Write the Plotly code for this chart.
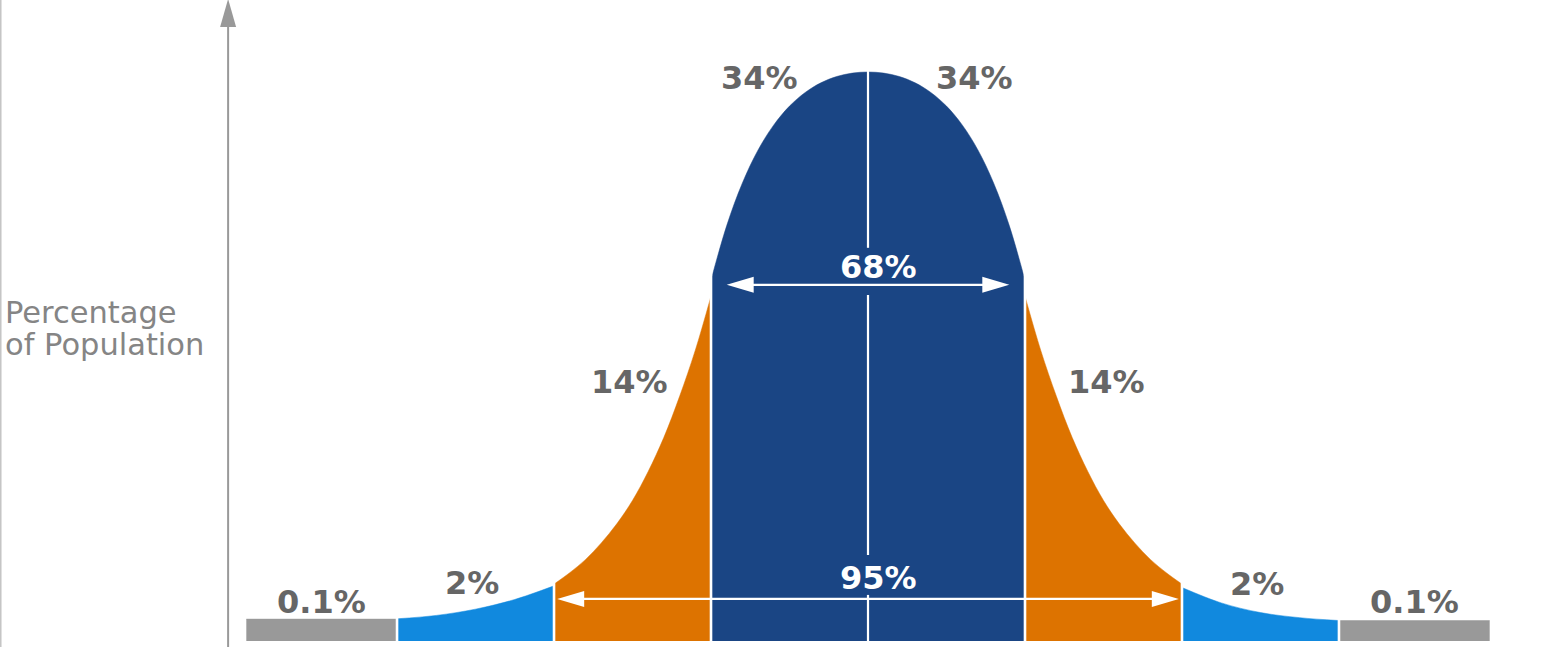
import plotly.graph_objects as go

# ---- data -----------------------------------------------------------------
# x: position in standard deviations from the mean
# h: height of the curve, in percent of the peak height
GRAY_L_X = [-3.96, -3.0]
GRAY_L_H = [3.85, 3.85]
LBLUE_L_X = [-3.0, -2.75, -2.5, -2.25, -2.0]
LBLUE_L_H = [3.9, 4.5, 5.6, 7.3, 9.7]
ORANGE_L_X = [-2.0, -1.9, -1.8, -1.7, -1.6, -1.5, -1.4, -1.3, -1.2, -1.1, -1.0]
ORANGE_L_H = [10.0, 12.0, 14.3, 17.2, 20.6, 24.7, 29.8, 35.8, 43.0, 51.1, 60.6]
NAVY_X = [-1.0, -0.9, -0.8, -0.7, -0.6, -0.5, -0.4, -0.3, -0.2, -0.1, 0.0,
          0.1, 0.2, 0.3, 0.4, 0.5, 0.6, 0.7, 0.8, 0.9, 1.0]
NAVY_H = [63.4, 73.0, 80.5, 86.3, 90.7, 94.0, 96.4, 98.1, 99.2, 99.8, 100.0,
          99.8, 99.2, 98.1, 96.4, 94.0, 90.7, 86.3, 80.5, 73.0, 63.4]
ORANGE_R_X = [1.0, 1.1, 1.2, 1.3, 1.4, 1.5, 1.6, 1.7, 1.8, 1.9, 2.0]
ORANGE_R_H = [60.6, 51.1, 43.0, 35.8, 29.8, 24.7, 20.6, 17.2, 14.3, 12.0, 10.0]
LBLUE_R_X = [2.0, 2.25, 2.5, 2.75, 3.0]
LBLUE_R_H = [9.4, 6.7, 5.0, 4.1, 3.6]
GRAY_R_X = [3.0, 3.96]
GRAY_R_H = [3.6, 3.6]

SEGMENT_LABELS = ["0.1%", "2%", "14%", "34%", "34%", "14%", "2%", "0.1%"]
RANGE_LABELS = ["68%", "95%"]
BOUNDARIES = [-3, -2, -1, 1, 2, 3]
AXIS_TITLE = ["Percentage", "of Population"]

# ---- styles ----------------------------------------------------------------
C_NAVY = "#1a4584"
C_ORANGE = "#dd7300"
C_LBLUE = "#1189de"
C_GRAY = "#999999"
C_TEXT = "#666666"
C_TITLE = "#858585"
FONT = "DejaVu Sans"

W, H = 1544, 647
X_RANGE = [-5.529, 4.306]
Y_RANGE = [-1.054, 112.65]

fig = go.Figure()

segments = [
    (GRAY_L_X, GRAY_L_H, C_GRAY, "linear"),
    (LBLUE_L_X, LBLUE_L_H, C_LBLUE, "spline"),
    (ORANGE_L_X, ORANGE_L_H, C_ORANGE, "spline"),
    (NAVY_X, NAVY_H, C_NAVY, "spline"),
    (ORANGE_R_X, ORANGE_R_H, C_ORANGE, "spline"),
    (LBLUE_R_X, LBLUE_R_H, C_LBLUE, "spline"),
    (GRAY_R_X, GRAY_R_H, C_GRAY, "linear"),
]
for xs, hs, col, shp in segments:
    fig.add_trace(go.Scatter(
        x=xs, y=hs, mode="lines", fill="tozeroy", fillcolor=col,
        line=dict(color=col, width=0.5, shape=shp, smoothing=1.0),
        hoverinfo="skip", showlegend=False,
    ))

shapes = []


def height_at(b):
    vals = []
    for xs, hs, _, _ in segments:
        for xv, hv in zip(xs, hs):
            if abs(xv - b) < 1e-9:
                vals.append(hv)
    return max(vals)


# white separators between the bands
for b in BOUNDARIES:
    shapes.append(dict(type="line", xref="x", yref="y", x0=b, x1=b, y0=-0.5,
                       y1=height_at(b) + 2.5, line=dict(color="white", width=2.6)))

# centre line, broken where the range labels sit
for y0, y1 in [(-0.5, 8.1), (15.1, 60.8), (69.1, 100.5)]:
    shapes.append(dict(type="line", xref="x", yref="y", x0=0, x1=0, y0=y0, y1=y1,
                       line=dict(color="white", width=2.2)))

# double arrows for 68% and 95%
arrow_y = [62.6, 7.4]
arrow_tip = [0.9, 1.98]
for ay, tip in zip(arrow_y, arrow_tip):
    shapes.append(dict(type="line", xref="x", yref="y", x0=-tip + 0.1, x1=tip - 0.1,
                       y0=ay, y1=ay, line=dict(color="white", width=2.2)))
    for sgn in (-1, 1):
        shapes.append(dict(type="path", xref="x", yref="y", xsizemode="pixel",
                           ysizemode="pixel", xanchor=sgn * tip, yanchor=ay,
                           path=f"M0,0 L{-sgn*27},8 L{-sgn*27},-8 Z",
                           fillcolor="white", line=dict(width=0)))

# vertical axis with arrow head
AXIS_X = -4.076
shapes.append(dict(type="line", xref="x", yref="paper", x0=AXIS_X, x1=AXIS_X,
                   y0=0, y1=0.97, line=dict(color=C_GRAY, width=2)))
shapes.append(dict(type="path", xref="x", yref="paper", xsizemode="pixel",
                   ysizemode="pixel", xanchor=AXIS_X, yanchor=1.0,
                   path="M0,1 L-8,-27 L8,-27 Z", fillcolor=C_GRAY, line=dict(width=0)))
# thin frame line at the left edge
shapes.append(dict(type="line", xref="paper", yref="paper", x0=0.0005, x1=0.0005,
                   y0=0, y1=1, line=dict(color="#c4c4c4", width=1.5)))

annotations = []
seg_label_x = [-3.48, -2.52, -1.52, -0.69, 0.68, 1.52, 2.48, 3.48]
seg_label_y = [6.85, 10.2, 45.5, 98.9, 98.9, 45.5, 10.0, 6.85]
for t, lx, ly in zip(SEGMENT_LABELS, seg_label_x, seg_label_y):
    annotations.append(dict(text=t, x=lx, y=ly, xref="x", yref="y", showarrow=False,
                            xanchor="center", yanchor="middle",
                            font=dict(family=FONT, size=32, color=C_TEXT, weight="bold")))
range_label_y = [65.7, 11.1]
for t, ly in zip(RANGE_LABELS, range_label_y):
    annotations.append(dict(text=t, x=0.07, y=ly, xref="x", yref="y", showarrow=False,
                            xanchor="center", yanchor="middle",
                            font=dict(family=FONT, size=32, color="white", weight="bold")))
for t, py in zip(AXIS_TITLE, [312, 344]):
    annotations.append(dict(text=t, x=3 / W, y=1 - py / H, xref="paper", yref="paper",
                            showarrow=False, xanchor="left", yanchor="middle",
                            font=dict(family=FONT, size=30.5, color=C_TITLE)))

fig.update_layout(
    width=W, height=H, margin=dict(l=0, r=0, t=0, b=0),
    paper_bgcolor="white", plot_bgcolor="white",
    xaxis=dict(range=X_RANGE, visible=False, fixedrange=True),
    yaxis=dict(range=Y_RANGE, visible=False, fixedrange=True),
    shapes=shapes, annotations=annotations, showlegend=False,
)

fig.write_html("out.html", config={"displayModeBar": False},
               post_script="document.body.style.margin='0px';")
